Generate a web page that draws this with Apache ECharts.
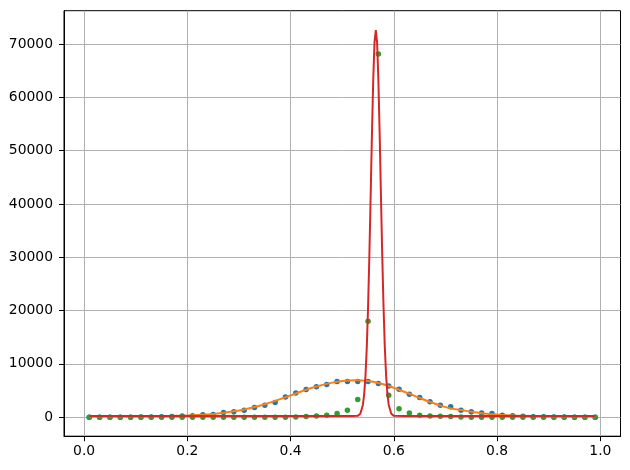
<!DOCTYPE html>
<html>
<head>
<meta charset="utf-8">
<script src="https://cdn.jsdelivr.net/npm/echarts@6/dist/echarts.min.js"></script>
<style>html,body{margin:0;padding:0;background:#fff;}#c{width:630px;height:470px;}</style>
</head>
<body>
<div id="c"></div>
<script>
// sample positions for dots
const xPoints = [0.01,0.03,0.05,0.07,0.09,0.11,0.13,0.15,0.17,0.19,
                 0.21,0.23,0.25,0.27,0.29,0.31,0.33,0.35,0.37,0.39,
                 0.41,0.43,0.45,0.47,0.49,0.51,0.53,0.55,0.57,0.59,
                 0.61,0.63,0.65,0.67,0.69,0.71,0.73,0.75,0.77,0.79,
                 0.81,0.83,0.85,0.87,0.89,0.91,0.93,0.95,0.97,0.99];
// blue dots (broad peak)
const blueValues = [0,0,0,0,10,20,40,70,130,230,
                    260,480,520,870,1000,1320,1800,2250,2750,3800,
                    4550,5200,5700,6150,6700,6700,6700,6700,6300,5850,
                    5250,4300,3700,2900,2250,1950,1300,1000,800,700,
                    380,250,180,100,60,30,15,5,0,0];
// green dots (narrow peak)
const greenValues = [0,0,0,0,0,0,0,0,0,0,
                     0,0,0,0,0,0,0,0,0,0,
                     20,150,220,380,700,1300,3300,18000,68100,4100,
                     1600,800,380,200,190,150,50,0,0,0,
                     0,0,0,0,0,0,0,0,0,0];
// orange fitted curve
const orangeX = [0.01,0.05,0.09,0.13,0.17,0.21,0.25,0.27,0.29,0.31,0.33,0.35,0.37,0.39,0.41,0.43,0.45,0.47,0.49,0.51,
                 0.53,0.55,0.57,0.59,0.61,0.63,0.65,0.67,0.69,0.71,0.73,0.75,0.77,0.79,0.81,0.83,0.85,0.89,0.93,0.99];
const orangeY = [180,180,185,200,250,380,620,830,1110,1460,1900,2430,3050,3750,4450,5150,5750,6250,6650,6900,
                 6940,6780,6400,5850,5150,4400,3600,2850,2200,1650,1350,1000,720,530,400,300,250,200,185,180];
// red fitted curve
const redX = [0.01,0.50,0.52,0.53,0.535,0.54,0.5425,0.545,0.5475,0.55,0.5525,0.555,0.5575,0.56,0.5625,0.565,
              0.5675,0.57,0.5725,0.575,0.5775,0.58,0.5825,0.585,0.5875,0.59,0.595,0.60,0.62,0.99];
const redY = [200,200,205,250,650,2300,4350,7750,13050,20550,30200,41400,53000,63200,70300,72600,
              70300,63200,53000,41400,30200,20550,13050,7750,4350,2300,650,250,205,200];
const xTicks = [0,0.2,0.4,0.6,0.8,1.0];
const yTicks = [0,10000,20000,30000,40000,50000,60000,70000];

const zip = (a, b) => a.map((v, i) => [v, b[i]]);
const font = 'DejaVu Sans';
const chart = echarts.init(document.getElementById('c'), null, {renderer: 'canvas'});
chart.setOption({
  animation: false,
  backgroundColor: '#fff',
  grid: {left: 64, right: 9.5, top: 10.7, bottom: 33.8, show: true, borderColor: '#000', borderWidth: 1, backgroundColor: 'transparent'},
  xAxis: {
    type: 'value', min: -0.039, max: 1.039,
    axisLine: {show: true, onZero: false, lineStyle: {color: '#000', width: 1}},
    axisTick: {show: true, length: 5, lineStyle: {color: '#000', width: 1}, customValues: xTicks},
    axisLabel: {customValues: xTicks, formatter: v => v.toFixed(1), color: '#000', fontFamily: font, fontSize: 13.9, margin: 8},
    splitLine: {show: true, lineStyle: {color: '#b0b0b0', width: 1}}
  },
  yAxis: {
    type: 'value', min: -3565, max: 76230,
    axisLine: {show: true, onZero: false, lineStyle: {color: '#000', width: 1}},
    axisTick: {show: true, length: 5, lineStyle: {color: '#000', width: 1}, customValues: yTicks},
    axisLabel: {customValues: yTicks, formatter: v => String(v), color: '#000', fontFamily: font, fontSize: 13.9, margin: 11},
    splitLine: {show: true, lineStyle: {color: '#b0b0b0', width: 1}}
  },
  series: [
    {type: 'scatter', data: zip(xPoints, blueValues), symbolSize: 5.5, itemStyle: {color: '#1f77b4', opacity: 1}},
    {type: 'line', data: zip(orangeX, orangeY), showSymbol: false, smooth: 0.3, lineStyle: {color: '#ff7f0e', width: 2}},
    {type: 'scatter', data: zip(xPoints, greenValues), symbolSize: 5.5, itemStyle: {color: '#2ca02c', opacity: 1}},
    {type: 'line', data: zip(redX, redY), showSymbol: false, smooth: false, lineStyle: {color: '#d62728', width: 2}}
  ]
});
</script>
</body>
</html>
